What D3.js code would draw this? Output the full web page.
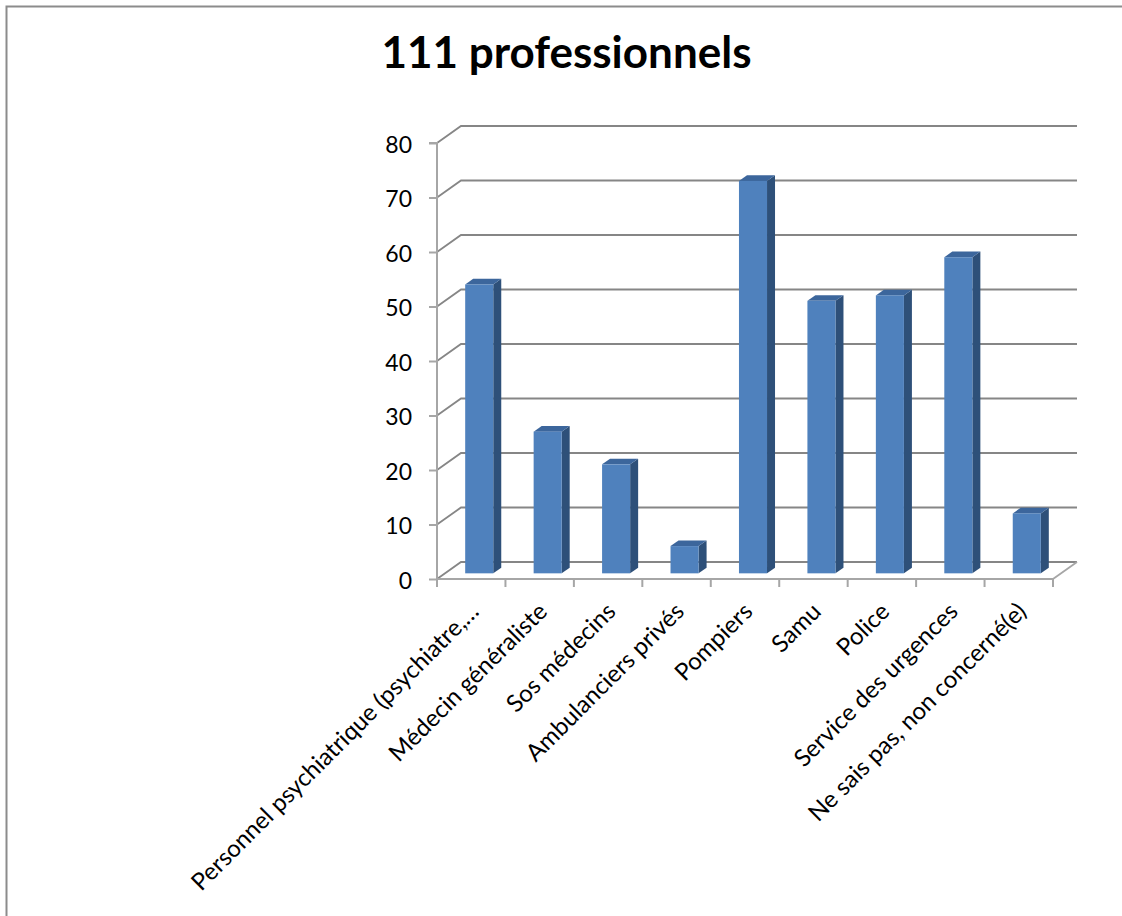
<!DOCTYPE html>
<html>
<head>
<meta charset="utf-8">
<script src="https://cdn.jsdelivr.net/npm/d3@7"></script>
<style>
  html, body { margin: 0; padding: 0; background: #fff; }
  svg { display: block; }
</style>
</head>
<body>
<svg id="chart" width="1122" height="916"></svg>
<script>
const title = "111 professionnels";
const categories = [
  "Personnel psychiatrique (psychiatre,…",
  "Médecin généraliste",
  "Sos médecins",
  "Ambulanciers privés",
  "Pompiers",
  "Samu",
  "Police",
  "Service des urgences",
  "Ne sais pas, non concerné(e)"
];
const values = [53, 26, 20, 5, 72, 50, 51, 58, 11];
const yTicks = [0, 10, 20, 30, 40, 50, 60, 70, 80];

const svg = d3.select("#chart");
const W = 1122, H = 916;

// frame
svg.append("path")
  .attr("d", `M6.5,${H} L6.5,6.5 L${W},6.5`)
  .attr("fill", "none").attr("stroke", "#8c8c8c").attr("stroke-width", 2);

const x = d3.scaleBand().domain(categories).range([437, 1053]).padding(0);
const y = d3.scaleLinear().domain([0, 80]).range([579, 143]);
const DX = 24, DY = -17;           // depth offset of the back wall
const bw = x.bandwidth() * 0.41;   // bar width
const f0 = 1 / 3, f1 = 2 / 3;      // bar depth span

// title
svg.append("text")
  .attr("x", 566.5).attr("y", 68)
  .attr("text-anchor", "middle")
  .attr("font-family", "Lato, 'Open Sans', sans-serif")
  .attr("font-weight", "bold")
  .attr("font-size", 44)
  .attr("fill", "#000")
  .text(title);

const g = svg.append("g");

// gridlines (back wall + left wall diagonals)
yTicks.forEach(t => {
  const yy = y(t);
  g.append("path")
    .attr("d", `M${x.range()[0]},${yy} L${x.range()[0] + DX},${yy + DY} L${x.range()[1] + DX},${yy + DY}`)
    .attr("fill", "none").attr("stroke", "#868686").attr("stroke-width", 1.8);
});
// floor right edge
g.append("path")
  .attr("d", `M${x.range()[1]},${y(0)} L${x.range()[1] + DX},${y(0) + DY}`)
  .attr("fill", "none").attr("stroke", "#a6a6a6").attr("stroke-width", 1.8);

// bars
const bars = g.selectAll("g.bar").data(categories).join("g").attr("class", "bar");
bars.each(function (c, i) {
  const v = values[i];
  const cx = x(c) + x.bandwidth() / 2;
  const x0 = cx - bw / 2 + DX * f0, x1 = cx + bw / 2 + DX * f0;
  const yb = y(0) + DY * f0, yt = y(v) + DY * f0;
  const ddx = DX * (f1 - f0), ddy = DY * (f1 - f0);
  const s = d3.select(this);
  // side
  s.append("path")
    .attr("d", `M${x1},${yt} L${x1 + ddx},${yt + ddy} L${x1 + ddx},${yb + ddy} L${x1},${yb} Z`)
    .attr("fill", "#2e5079");
  // top
  s.append("path")
    .attr("d", `M${x0},${yt} L${x0 + ddx},${yt + ddy} L${x1 + ddx},${yt + ddy} L${x1},${yt} Z`)
    .attr("fill", "#3c669c");
  // front
  s.append("rect")
    .attr("x", x0).attr("y", yt)
    .attr("width", x1 - x0).attr("height", yb - yt)
    .attr("fill", "#4f81bd");
});

// y axis
const yAxis = d3.axisLeft(y).tickValues(yTicks).tickSize(8).tickPadding(17);
const ya = svg.append("g").attr("transform", `translate(${x.range()[0]},0)`).call(yAxis);
ya.select(".domain").attr("stroke", "#a6a6a6").attr("stroke-width", 2)
  .attr("d", `M-8,${y(80)}H0V${y(0)}`);
ya.selectAll(".tick line").attr("stroke", "#a6a6a6").attr("stroke-width", 2);
ya.selectAll(".tick text")
  .attr("font-family", "Lato, 'Open Sans', sans-serif")
  .attr("font-size", 23).attr("fill", "#000")
  .attr("dy", "0.4em");

// x axis (front floor edge)
const xa = svg.append("g").attr("transform", `translate(0,${y(0)})`);
xa.append("line").attr("x1", x.range()[0]).attr("x2", x.range()[1])
  .attr("stroke", "#a6a6a6").attr("stroke-width", 2);
const bounds = categories.map(c => x(c)).concat([x.range()[1]]);
xa.selectAll("line.tk").data(bounds).join("line").attr("class", "tk")
  .attr("x1", d => d).attr("x2", d => d).attr("y1", 0).attr("y2", 8)
  .attr("stroke", "#a6a6a6").attr("stroke-width", 2);
xa.selectAll("text.lbl").data(categories).join("text").attr("class", "lbl")
  .attr("transform", c => `translate(${x(c) + x.bandwidth() / 2 + 9},${34}) rotate(-45)`)
  .attr("text-anchor", "end")
  .attr("font-family", "Lato, 'Open Sans', sans-serif")
  .attr("font-size", 24).attr("fill", "#000")
  .text(c => c);
</script>
</body>
</html>
